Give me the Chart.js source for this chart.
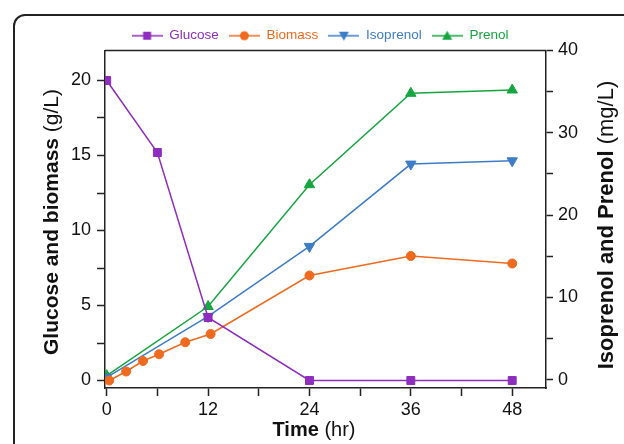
<!DOCTYPE html>
<html>
<head>
<meta charset="utf-8">
<script src="https://cdn.jsdelivr.net/npm/chart.js@4"></script>
<style>
  html, body { margin: 0; padding: 0; background: #fff; }
  #wrap { position: relative; width: 624px; height: 444px; overflow: hidden; }
  #frame { position: absolute; left: 13px; top: 14px; width: 700px; height: 500px;
           border: 2px solid #222; border-top-left-radius: 12px; box-sizing: border-box; }
  canvas { position: absolute; left: 0; top: 0; }
</style>
</head>
<body>
<div id="wrap">
  <div id="frame"></div>
  <canvas id="chart" width="624" height="444"></canvas>
</div>
<script>
// time points (hr)
const glucoseTime = [0, 6, 12, 24, 36, 48];
const glucose = [20, 15.2, 4.2, 0, 0, 0];            // g/L
const biomassTime = [0.3, 2.3, 4.3, 6.2, 9.3, 12.3, 24, 36, 48];
const biomass = [0, 0.6, 1.3, 1.75, 2.55, 3.1, 7.0, 8.3, 7.8]; // g/L
const prodTime = [0, 12, 24, 36, 48];
const isoprenol = [0.3, 7.7, 16.2, 26.2, 26.6];       // mg/L
const prenol = [0.5, 8.9, 23.7, 34.8, 35.2];          // mg/L

const xTicks = [0, 6, 12, 18, 24, 30, 36, 42, 48];
const leftTicks = [0, 2.5, 5, 7.5, 10, 12.5, 15, 17.5, 20];
const rightTicks = [0, 5, 10, 15, 20, 25, 30, 35, 40];

const FONT = '"Liberation Sans", Arial, Helvetica, sans-serif';
const PURPLE = '#8E2DBE', ORANGE = '#EE6A1E', BLUE = '#3D7CC6', GREEN = '#16A640';

const pts = (xs, ys) => xs.map((x, i) => ({ x, y: ys[i] }));

function legendIcon(color, style, rot) {
  const c = document.createElement('canvas');
  c.width = 31; c.height = 14;
  const g = c.getContext('2d');
  g.strokeStyle = color; g.fillStyle = color; g.lineWidth = 1.5;
  g.beginPath(); g.moveTo(0, 7); g.lineTo(31, 7); g.stroke();
  g.beginPath();
  if (style === 'rect') g.rect(11.5, 3, 8, 8);
  else if (style === 'circle') g.arc(15.5, 7, 4.5, 0, Math.PI * 2);
  else if (rot) { g.moveTo(10.5, 3); g.lineTo(20.5, 3); g.lineTo(15.5, 12); g.closePath(); }
  else { g.moveTo(10.5, 11); g.lineTo(20.5, 11); g.lineTo(15.5, 2); g.closePath(); }
  g.fill();
  return c;
}

// nudge the legend a little lower, it sits closer to the plot in the original
const legendNudge = {
  id: 'legendNudge',
  afterLayout(chart) {
    const l = chart.legend;
    if (l) { l.top += 2; l.bottom += 2; }
  }
};

const axisTitles = {
  id: 'axisTitles',
  afterDraw(chart) {
    const { ctx, chartArea: a } = chart;
    ctx.save();
    // top frame line of the plot box
    ctx.strokeStyle = '#222'; ctx.lineWidth = 1.5;
    ctx.beginPath(); ctx.moveTo(a.left, a.top); ctx.lineTo(a.right, a.top); ctx.stroke();
    ctx.fillStyle = '#111';
    ctx.textBaseline = 'alphabetic';
    const two = (bold, normal, x, y, rot, size) => {
      ctx.save();
      ctx.translate(x, y); ctx.rotate(rot);
      ctx.font = 'bold ' + size + 'px ' + FONT;
      const w1 = ctx.measureText(bold).width;
      ctx.font = size + 'px ' + FONT;
      const w2 = ctx.measureText(normal).width;
      let sx = -(w1 + w2) / 2;
      ctx.textAlign = 'left';
      ctx.font = 'bold ' + size + 'px ' + FONT;
      ctx.fillText(bold, sx, 0);
      ctx.font = size + 'px ' + FONT;
      ctx.fillText(normal, sx + w1, 0);
      ctx.restore();
    };
    two('Time', ' (hr)', 314, 436, 0, 20);
    two('Glucose and biomass', ' (g/L)', 58, 222, -Math.PI / 2, 21);
    two('Isoprenol and Prenol', ' (mg/L)', 613, 225, -Math.PI / 2, 22);
    ctx.restore();
  }
};

const ctx = document.getElementById('chart').getContext('2d');
new Chart(ctx, {
  type: 'line',
  data: {
    datasets: [
      { label: 'Glucose', data: pts(glucoseTime, glucose), yAxisID: 'y',
        borderColor: PURPLE, backgroundColor: PURPLE, pointStyle: 'rect', pointRadius: 5.6,
        icon: legendIcon(PURPLE, 'rect') },
      { label: 'Biomass', data: pts(biomassTime, biomass), yAxisID: 'y',
        borderColor: ORANGE, backgroundColor: ORANGE, pointStyle: 'circle', pointRadius: 4.5,
        icon: legendIcon(ORANGE, 'circle') },
      { label: 'Isoprenol', data: pts(prodTime, isoprenol), yAxisID: 'y2',
        borderColor: BLUE, backgroundColor: BLUE, pointStyle: 'triangle', pointRotation: 180, pointRadius: 6,
        icon: legendIcon(BLUE, 'tri', true) },
      { label: 'Prenol', data: pts(prodTime, prenol), yAxisID: 'y2',
        borderColor: GREEN, backgroundColor: GREEN, pointStyle: 'triangle', pointRadius: 6,
        icon: legendIcon(GREEN, 'tri', false) }
    ]
  },
  options: {
    responsive: false,
    animation: false,
    elements: { line: { borderWidth: 1.5, tension: 0 }, point: { borderWidth: 1 } },
    layout: { padding: { top: 17, left: 16, right: 0, bottom: 0 } },
    plugins: {
      tooltip: { enabled: false },
      legend: {
        position: 'top',
        labels: {
          usePointStyle: true,
          pointStyleWidth: 31,
          padding: 10,
          font: { family: FONT, size: 13.5 },
          generateLabels(chart) {
            return chart.data.datasets.map((ds, i) => ({
              text: ds.label, datasetIndex: i, pointStyle: ds.icon,
              fontColor: ds.borderColor, fillStyle: ds.borderColor, strokeStyle: ds.borderColor,
              lineWidth: 0, hidden: false
            }));
          }
        }
      }
    },
    scales: {
      x: {
        type: 'linear', min: -0.2, max: 52,
        afterBuildTicks: s => { s.ticks = xTicks.map(v => ({ value: v })); },
        afterFit: s => { s.height = 56; },
        grid: { drawOnChartArea: false, tickLength: 8, tickColor: '#222', tickWidth: 1.5 },
        border: { color: '#222', width: 1.5 },
        ticks: { color: '#111', padding: 3, font: { family: FONT, size: 18 },
                 callback: v => (v % 12 === 0 ? v : '') }
      },
      y: {
        position: 'left', min: -0.5, max: 22,
        afterBuildTicks: s => { s.ticks = leftTicks.map(v => ({ value: v })); },
        afterFit: s => { s.width = 89; },
        grid: { drawOnChartArea: false, tickLength: 8, tickColor: '#222', tickWidth: 1.5 },
        border: { color: '#222', width: 1.5 },
        ticks: { color: '#111', padding: 6, font: { family: FONT, size: 18 },
                 callback: v => (v % 5 === 0 ? v : '') }
      },
      y2: {
        position: 'right', min: -1, max: 40,
        afterBuildTicks: s => { s.ticks = rightTicks.map(v => ({ value: v })); },
        afterFit: s => { s.width = 78; },
        grid: { drawOnChartArea: false, tickLength: 7, tickColor: '#222', tickWidth: 1.5 },
        border: { color: '#222', width: 1.5 },
        ticks: { color: '#111', padding: 5, font: { family: FONT, size: 18 },
                 callback: v => (v % 10 === 0 ? v : '') }
      }
    }
  },
  plugins: [axisTitles, legendNudge]
});
</script>
</body>
</html>
